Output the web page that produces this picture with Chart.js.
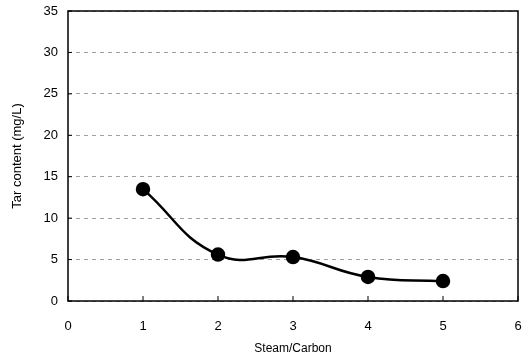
<!DOCTYPE html>
<html><head><meta charset="utf-8">
<script src="https://cdn.jsdelivr.net/npm/chart.js@4"></script>
<style>html,body{margin:0;padding:0;background:#fff}</style>
</head><body>
<canvas id="c" width="530" height="358"></canvas>
<script>
const steamCarbon = [1, 2, 3, 4, 5];
const tarContent = [13.5, 5.6, 5.3, 2.9, 2.4];
const xTicks = [0, 1, 2, 3, 4, 5, 6];
const yTicks = [0, 5, 10, 15, 20, 25, 30, 35];

const frame = {
  id: 'frame',
  afterDatasetsDraw(chart) {
    const {ctx, chartArea: a, scales} = chart;
    ctx.save();
    ctx.strokeStyle = '#000';
    ctx.lineWidth = 1.5;
    ctx.strokeRect(a.left, a.top, a.right - a.left, a.bottom - a.top);
    ctx.lineWidth = 1;
    ctx.beginPath();
    xTicks.forEach(v => {
      const px = scales.x.getPixelForValue(v);
      ctx.moveTo(px, a.bottom);
      ctx.lineTo(px, a.bottom - 5);
    });
    yTicks.forEach(v => {
      const py = scales.y.getPixelForValue(v);
      ctx.moveTo(a.left, py);
      ctx.lineTo(a.left + 4, py);
    });
    ctx.stroke();
    ctx.restore();
  }
};

new Chart(document.getElementById('c'), {
  type: 'scatter',
  data: {
    datasets: [{
      data: steamCarbon.map((x, i) => ({x, y: tarContent[i]})),
      showLine: true,
      tension: 0.45,
      borderColor: '#000',
      backgroundColor: '#000',
      borderWidth: 2.5,
      pointRadius: 6,
      pointBackgroundColor: '#000',
      pointBorderColor: '#000'
    }]
  },
  options: {
    responsive: false,
    animation: false,
    layout: {padding: {top: 11, right: 12, left: 0, bottom: 0}},
    plugins: {legend: {display: false}, tooltip: {enabled: false}},
    scales: {
      x: {
        type: 'linear', min: 0, max: 6,
        afterBuildTicks(s) { s.ticks = xTicks.map(v => ({value: v})); },
        grid: {display: false},
        border: {display: false},
        ticks: {color: '#000', font: {family: 'Liberation Sans', size: 13}, padding: 10},
        title: {display: true, text: 'Steam/Carbon', color: '#000', font: {family: 'Liberation Sans', size: 12}, padding: {top: 4, bottom: 2}},
        afterFit(s) { s.height = 57; s.paddingLeft = 0; s.paddingRight = 0; }
      },
      y: {
        type: 'linear', min: 0, max: 35,
        afterBuildTicks(s) { s.ticks = yTicks.map(v => ({value: v})); },
        grid: {color: '#a0a0a0', lineWidth: 1, drawTicks: false},
        border: {display: false, dash: [4, 4]},
        ticks: {color: '#000', font: {family: 'Liberation Sans', size: 13}, padding: 10},
        title: {display: true, text: 'Tar content (mg/L)', color: '#000', font: {family: 'Liberation Sans', size: 13}, padding: {top: 10, bottom: 4}},
        afterFit(s) { s.width = 68; s.paddingTop = 0; s.paddingBottom = 0; }
      }
    }
  },
  plugins: [frame]
});
</script>
</body></html>
